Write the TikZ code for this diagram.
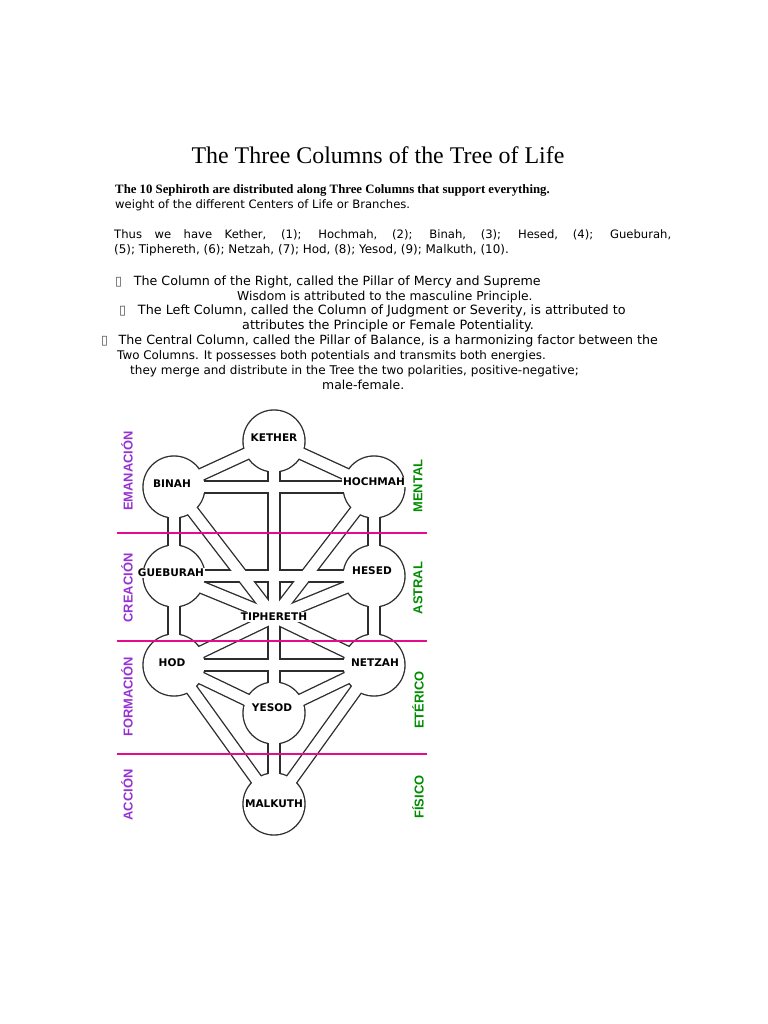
\documentclass[tikz,border=0pt]{standalone}
\usepackage{fontspec}
\setmainfont{DejaVu Sans}
\newfontfamily\titlefont{Liberation Serif}
\newfontfamily\sidefont{Liberation Sans}
\definecolor{treepink}{RGB}{230,10,140}
\definecolor{treeviolet}{RGB}{150,50,210}
\definecolor{treegreen}{RGB}{0,140,0}
\definecolor{treeink}{RGB}{45,45,45}
\usetikzlibrary{positioning}

\begin{document}
\begin{tikzpicture}[x=0.03cm, y=-0.03cm,
    bodyline/.style={anchor=base west, inner sep=0pt, font=\fontsize{#1}{12}\selectfont},
    bodyline/.default=9.9,
    chanout/.style={line width=11.4pt, treeink},
    chanin/.style={line width=9.1pt, white},
    seflabel/.style={font=\fontsize{9}{10}\selectfont\bfseries, fill=white, inner sep=1pt},
    zoneline/.style={treepink, line width=2.4pt},
    leftzone/.style={rotate=90, inner sep=0pt, font=\sidefont\fontsize{11}{13}\selectfont\bfseries, text=treeviolet},
    rightzone/.style={rotate=90, inner sep=0pt, font=\sidefont\fontsize{11}{13}\selectfont\bfseries, text=treegreen}
  ]
    \useasboundingbox (0,0) rectangle (768,1024);

    % Title and text
    \node[anchor=base, inner sep=0pt, font=\titlefont\fontsize{20.4}{24}\selectfont] (title) at (378,163)
      {The Three Columns of the Tree of Life};
    \node[anchor=base west, inner sep=0pt, font=\titlefont\fontsize{10.9}{12}\selectfont\bfseries] (intro) at (115,193)
      {The 10 Sephiroth are distributed along Three Columns that support everything.};
    \node[bodyline] (weight) at (115,208) {weight of the different Centers of Life or Branches.};
    \node[bodyline] (thus1) at (114,238)
      {\makebox[16.71cm][s]{Thus we have Kether, (1); Hochmah, (2); Binah, (3); Hesed, (4); Gueburah,}};
    \node[bodyline=10.2] (thus2) at (114,253) {(5); Tiphereth, (6); Netzah, (7); Hod, (8); Yesod, (9); Malkuth, (10).};

    \node[bodyline=10.8] (right1) at (115,285)
      {{\color{black!70}▯}\hspace{10pt}The Column of the Right, called the Pillar of Mercy and Supreme};
    \node[bodyline=10.5] (right2) at (237,300) {Wisdom is attributed to the masculine Principle.};
    \node[bodyline=10.9] (left1) at (119,314)
      {{\color{black!70}▯}\hspace{10pt}The Left Column, called the Column of Judgment or Severity, is attributed to};
    \node[bodyline=10.9] (left2) at (242,329) {attributes the Principle or Female Potentiality.};
    \node[bodyline=10.8] (centre1) at (101,344)
      {{\color{black!70}▯}\hspace{9pt}The Central Column, called the Pillar of Balance, is a harmonizing factor between the};
    \node[bodyline=10.15] (centre2) at (117,359) {Two Columns. It possesses both potentials and transmits both energies.};
    \node[bodyline=10.25] (centre3) at (130,374) {they merge and distribute in the Tree the two polarities, positive-negative;};
    \node[bodyline=10.6] (centre4) at (322,389) {male-female.};

    % Sephiroth
    \coordinate (kether) at (274,441);
    \coordinate (binah) at (174,487);
    \coordinate (hochmah) at (374,487);
    \coordinate (gueburah) at (174,576);
    \coordinate (hesed) at (374,576);
    \coordinate (tiphereth) at (274,617);
    \coordinate (hod) at (174,665);
    \coordinate (netzah) at (374,665);
    \coordinate (yesod) at (274,713);
    \coordinate (malkuth) at (274,804);

    % Paths: outline first, then hollow
    \foreach \a/\b in {kether/hochmah, kether/binah, kether/tiphereth, hochmah/binah,
        hochmah/tiphereth, hochmah/hesed, binah/tiphereth, binah/gueburah, hesed/gueburah,
        hesed/tiphereth, hesed/netzah, gueburah/tiphereth, gueburah/hod, tiphereth/netzah,
        tiphereth/yesod, tiphereth/hod, netzah/hod, netzah/yesod, netzah/malkuth,
        hod/yesod, hod/malkuth, yesod/malkuth}
      \draw[chanout] (\a) -- (\b);
    \foreach \s in {kether, binah, hochmah, gueburah, hesed, hod, netzah, yesod, malkuth}
      \fill[treeink] (\s) circle (0.95cm);
    \foreach \a/\b in {kether/hochmah, kether/binah, kether/tiphereth, hochmah/binah,
        hochmah/tiphereth, hochmah/hesed, binah/tiphereth, binah/gueburah, hesed/gueburah,
        hesed/tiphereth, hesed/netzah, gueburah/tiphereth, gueburah/hod, tiphereth/netzah,
        tiphereth/yesod, tiphereth/hod, netzah/hod, netzah/yesod, netzah/malkuth,
        hod/yesod, hod/malkuth, yesod/malkuth}
      \draw[chanin] (\a) -- (\b);
    \foreach \s in {kether, binah, hochmah, gueburah, hesed, hod, netzah, yesod, malkuth}
      \fill[white] (\s) circle (0.91cm);

    % Names
    \node[seflabel] (ketherlbl) at (274,438) {KETHER};
    \node[seflabel] (binahlbl) at (172,484) {BINAH};
    \node[seflabel] (hochmahlbl) at (374,482) {HOCHMAH};
    \node[seflabel] (gueburahlbl) at (171,573) {GUEBURAH};
    \node[seflabel] (hesedlbl) at (372,571) {HESED};
    \node[seflabel] (tipherethlbl) at (274,617) {TIPHERETH};
    \node[seflabel] (hodlbl) at (172,663) {HOD};
    \node[seflabel] (netzahlbl) at (375,663) {NETZAH};
    \node[seflabel] (yesodlbl) at (272,708) {YESOD};
    \node[seflabel] (malkuthlbl) at (274,804) {MALKUTH};

    % Worlds
    \draw[zoneline] (117,533) -- (427,533);
    \draw[zoneline] (117,641) -- (427,641);
    \draw[zoneline] (117,754) -- (427,754);

    \node[leftzone] (emanacion) at (127,471) {EMANACIÓN};
    \node[leftzone] (creacion) at (127,588) {CREACIÓN};
    \node[leftzone] (formacion) at (127,697) {FORMACIÓN};
    \node[leftzone] (accion) at (127,795) {ACCIÓN};
    \node[rightzone] (mental) at (418,486) {MENTAL};
    \node[rightzone] (astral) at (418,588) {ASTRAL};
    \node[rightzone] (eterico) at (418,700) {ETÉRICO};
    \node[rightzone] (fisico) at (418,797) {FÍSICO};
  \end{tikzpicture}
\end{document}
